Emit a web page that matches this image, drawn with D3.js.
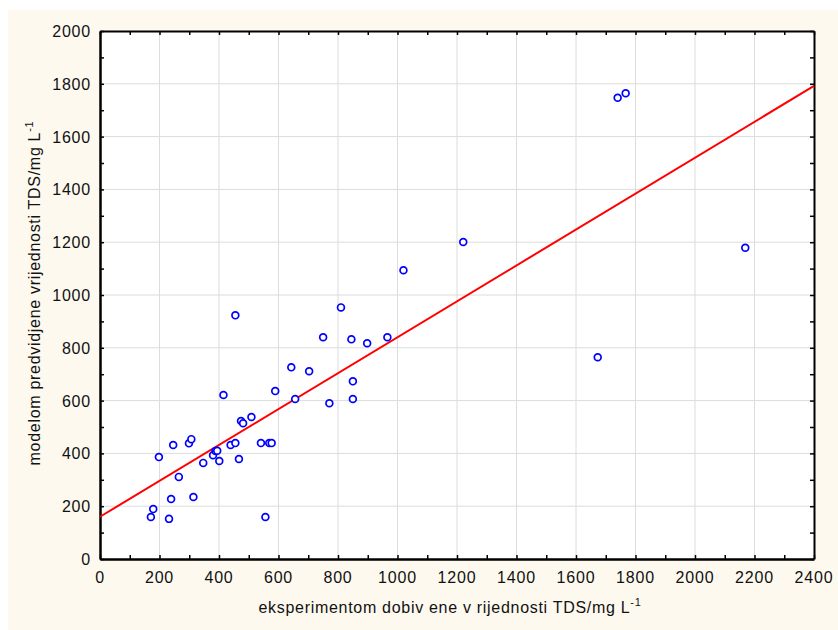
<!DOCTYPE html>
<html>
<head>
<meta charset="utf-8">
<script src="https://cdn.jsdelivr.net/npm/d3@7"></script>
<style>
  body { margin: 0; background: #ffffff; }
  text { font-family: "Liberation Sans", Arial, sans-serif; }
</style>
</head>
<body>
<div id="container"></div>
<script>
// measured TDS values (x) and model predicted values (y)
let measured = [171, 179, 232, 239, 198, 246, 265, 314, 299, 307, 347, 380, 388, 394, 401,
  415, 439, 455, 467, 474, 481, 509, 541, 569, 577, 556, 589, 656, 455, 643, 703, 750,
  810, 845, 898, 966, 850, 850, 771, 1020, 1221, 1740, 1767, 2169, 1673];
let predicted = [159, 189, 152, 227, 386, 432, 311, 235, 438, 454, 364, 393, 409, 410, 371,
  621, 432, 439, 379, 523, 514, 538, 439, 439, 439, 159, 636, 606, 923, 726, 711, 840,
  953, 832, 817, 840, 673, 606, 590, 1094, 1201, 1747, 1764, 1179, 764];

// regression line end points
let lineX = [0, 2400];
let lineY = [160, 1792];

let xTicks = [0, 200, 400, 600, 800, 1000, 1200, 1400, 1600, 1800, 2000, 2200, 2400];
let yTicks = [0, 200, 400, 600, 800, 1000, 1200, 1400, 1600, 1800, 2000];

let w = 838;
let h = 630;

let viz = d3.select("#container")
  .append("svg")
    .attr("width", w)
    .attr("height", h)
;

viz.append("rect")
    .attr("x", 8)
    .attr("y", 10)
    .attr("width", w - 8)
    .attr("height", h - 10)
    .attr("fill", "#fdf9ef")
;

let pLeft = 100, pRight = 814, pTop = 31, pBottom = 559;

let xScale = d3.scaleLinear().domain([0, 2400]).range([pLeft, pRight]);
let yScale = d3.scaleLinear().domain([0, 2000]).range([pBottom, pTop]);

viz.append("rect")
    .attr("x", pLeft)
    .attr("y", pTop)
    .attr("width", pRight - pLeft)
    .attr("height", pBottom - pTop)
    .attr("fill", "white")
;

// grid
viz.append("g").selectAll("line").data(xTicks.slice(1, -1)).enter().append("line")
    .attr("x1", d => xScale(d)).attr("x2", d => xScale(d))
    .attr("y1", pTop).attr("y2", pBottom)
    .attr("stroke", "#dcdcdc").attr("stroke-width", 1)
;
viz.append("g").selectAll("line").data(yTicks.slice(1, -1)).enter().append("line")
    .attr("y1", d => yScale(d)).attr("y2", d => yScale(d))
    .attr("x1", pLeft).attr("x2", pRight)
    .attr("stroke", "#dcdcdc").attr("stroke-width", 1)
;

// axes with inward ticks
let minorX = d3.range(0, 2401, 100);
let minorY = d3.range(0, 2001, 100);

let xBottom = d3.axisBottom(xScale).tickValues(minorX).tickSize(-4).tickSizeOuter(0).tickFormat("");
let xTop = d3.axisTop(xScale).tickValues(minorX).tickSize(-4).tickSizeOuter(0).tickFormat("");
let yLeft = d3.axisLeft(yScale).tickValues(minorY).tickSize(-4).tickSizeOuter(0).tickFormat("");
let yRight = d3.axisRight(yScale).tickValues(minorY).tickSize(-4).tickSizeOuter(0).tickFormat("");

viz.append("g").attr("transform", "translate(0," + pBottom + ")").call(xBottom)
    .call(g => g.select(".domain").attr("stroke-width", 2.5));
viz.append("g").attr("transform", "translate(0," + pTop + ")").call(xTop)
    .call(g => g.select(".domain").attr("stroke-width", 2));
viz.append("g").attr("transform", "translate(" + pLeft + ",0)").call(yLeft)
    .call(g => g.select(".domain").attr("stroke-width", 2.5));
viz.append("g").attr("transform", "translate(" + pRight + ",0)").call(yRight)
    .call(g => g.select(".domain").attr("stroke-width", 2));
viz.selectAll(".tick line").attr("stroke-width", 1.5);
viz.selectAll(".domain").attr("stroke", "black");

// tick labels
viz.append("g").selectAll("text").data(xTicks).enter().append("text")
    .text(d => d)
    .attr("x", d => xScale(d))
    .attr("y", pBottom + 24)
    .attr("text-anchor", "middle")
    .attr("fill", "#111")
    .style("font-size", "16px")
    .style("letter-spacing", "0.8px")
;
viz.append("g").selectAll("text").data(yTicks).enter().append("text")
    .text(d => d)
    .attr("x", pLeft - 9)
    .attr("y", d => yScale(d) + 6)
    .attr("text-anchor", "end")
    .attr("fill", "#111")
    .style("font-size", "16px")
    .style("letter-spacing", "0.8px")
;

// regression line
let lineData = lineX.map((d, i) => [d, lineY[i]]);
viz.append("path")
    .datum(lineData)
    .attr("d", d3.line().x(d => xScale(d[0])).y(d => yScale(d[1])))
    .attr("stroke", "#ff0000")
    .attr("stroke-width", 2)
    .attr("fill", "none")
;

// points
viz.append("g").selectAll("circle").data(measured).enter().append("circle")
    .attr("cx", d => xScale(d))
    .attr("cy", (d, i) => yScale(predicted[i]))
    .attr("r", 3.4)
    .attr("fill", "white")
    .attr("stroke", "#0000ff")
    .attr("stroke-width", 1.7)
;

// axis titles
let xTitle = viz.append("text")
    .attr("x", 450)
    .attr("y", 613)
    .attr("text-anchor", "middle")
    .attr("fill", "#111")
    .style("font-size", "16px")
    .style("letter-spacing", "0.7px")
;
xTitle.append("tspan").text("eksperimentom dobiv ene v rijednosti TDS/mg L");
xTitle.append("tspan").text("-1").attr("dy", -7).style("font-size", "11px");

let yTitle = viz.append("text")
    .attr("transform", "translate(40,293) rotate(-90)")
    .attr("text-anchor", "middle")
    .attr("fill", "#111")
    .style("font-size", "16px")
    .style("letter-spacing", "0.7px")
;
yTitle.append("tspan").text("modelom predvidjene vrijednosti TDS/mg L");
yTitle.append("tspan").text("-1").attr("dy", -7).style("font-size", "11px");
</script>
</body>
</html>
